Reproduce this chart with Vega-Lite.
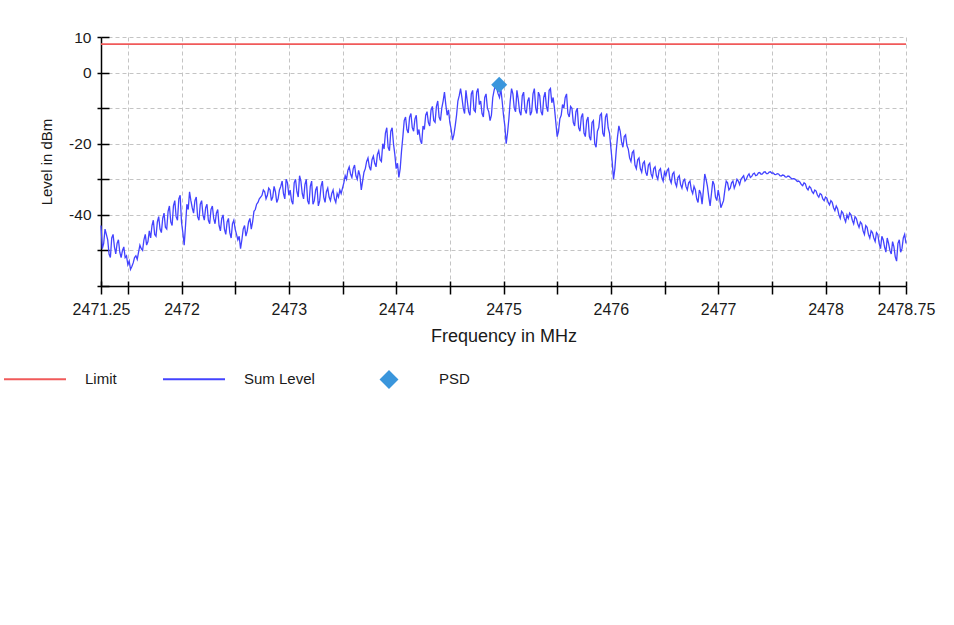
{
  "$schema": "https://vega.github.io/schema/vega-lite/v6.json",
  "width": 805,
  "height": 249,
  "autosize": {"type": "none"},
  "padding": {"left": 101, "top": 37, "right": 48, "bottom": 339},
  "background": "white",
  "config": {
    "view": {"stroke": null},
    "font": "Liberation Sans"
  },
  "datasets": {
    "limit": [{"f": 2471.25, "v": 8}, {"f": 2478.75, "v": 8}],
    "psd": [{"f": 2474.96, "v": -3.4}],
    "trace": [
      {"f":2471.25,"v":-43},{"f":2471.275,"v":-48},{"f":2471.3,"v":-45.5},{"f":2471.325,"v":-51},{"f":2471.35,"v":-46.5},{"f":2471.375,"v":-49},{"f":2471.4,"v":-48},{"f":2471.425,"v":-50.5},{"f":2471.45,"v":-50},{"f":2471.475,"v":-52},
      {"f":2471.5,"v":-54},{"f":2471.525,"v":-55.3},{"f":2471.55,"v":-53.5},{"f":2471.575,"v":-51.5},{"f":2471.6,"v":-50.5},{"f":2471.625,"v":-49.5},{"f":2471.65,"v":-47},{"f":2471.675,"v":-48.5},{"f":2471.7,"v":-44.5},{"f":2471.725,"v":-43},
      {"f":2471.75,"v":-45.5},{"f":2471.775,"v":-42},{"f":2471.8,"v":-44},{"f":2471.825,"v":-41},{"f":2471.85,"v":-43.5},{"f":2471.875,"v":-39},{"f":2471.9,"v":-42},{"f":2471.925,"v":-37.5},{"f":2471.95,"v":-40.5},{"f":2471.975,"v":-35.5},
      {"f":2472,"v":-42},{"f":2472.025,"v":-48.5},{"f":2472.05,"v":-37},{"f":2472.075,"v":-33.5},{"f":2472.1,"v":-38},{"f":2472.125,"v":-36},{"f":2472.15,"v":-40.5},{"f":2472.175,"v":-37},{"f":2472.2,"v":-40},{"f":2472.225,"v":-38},
      {"f":2472.25,"v":-41.5},{"f":2472.275,"v":-38.5},{"f":2472.3,"v":-41},{"f":2472.325,"v":-39.5},{"f":2472.35,"v":-43},{"f":2472.375,"v":-41},{"f":2472.4,"v":-44},{"f":2472.425,"v":-42},{"f":2472.45,"v":-45},{"f":2472.475,"v":-42.5},
      {"f":2472.5,"v":-44},{"f":2472.525,"v":-47},{"f":2472.55,"v":-49.5},{"f":2472.575,"v":-44},{"f":2472.6,"v":-46},{"f":2472.625,"v":-42},{"f":2472.65,"v":-44},{"f":2472.675,"v":-39},{"f":2472.7,"v":-37},{"f":2472.725,"v":-35.5},
      {"f":2472.75,"v":-34.5},{"f":2472.775,"v":-33.5},{"f":2472.8,"v":-34.5},{"f":2472.825,"v":-33},{"f":2472.85,"v":-35},{"f":2472.875,"v":-33.5},{"f":2472.9,"v":-35.5},{"f":2472.925,"v":-32},{"f":2472.95,"v":-34},{"f":2472.975,"v":-30},
      {"f":2473,"v":-34.5},{"f":2473.025,"v":-36},{"f":2473.05,"v":-31},{"f":2473.075,"v":-33.5},{"f":2473.1,"v":-29},{"f":2473.125,"v":-34},{"f":2473.15,"v":-31.5},{"f":2473.175,"v":-36},{"f":2473.2,"v":-32},{"f":2473.225,"v":-37},
      {"f":2473.25,"v":-33},{"f":2473.275,"v":-37.5},{"f":2473.3,"v":-32},{"f":2473.325,"v":-35},{"f":2473.35,"v":-33.5},{"f":2473.375,"v":-35},{"f":2473.4,"v":-34},{"f":2473.425,"v":-35.5},{"f":2473.45,"v":-34},{"f":2473.475,"v":-33},
      {"f":2473.5,"v":-32.5},{"f":2473.525,"v":-29},{"f":2473.55,"v":-27.5},{"f":2473.575,"v":-28.5},{"f":2473.6,"v":-27},{"f":2473.625,"v":-29},{"f":2473.65,"v":-27.5},{"f":2473.675,"v":-33},{"f":2473.7,"v":-28},{"f":2473.725,"v":-25},
      {"f":2473.75,"v":-26.5},{"f":2473.775,"v":-24.5},{"f":2473.8,"v":-25.5},{"f":2473.825,"v":-23},{"f":2473.85,"v":-24.5},{"f":2473.875,"v":-20},{"f":2473.9,"v":-17},{"f":2473.925,"v":-21},{"f":2473.95,"v":-16.5},{"f":2473.975,"v":-20},
      {"f":2474,"v":-27},{"f":2474.025,"v":-29.5},{"f":2474.05,"v":-22},{"f":2474.075,"v":-13.5},{"f":2474.1,"v":-16},{"f":2474.125,"v":-12.5},{"f":2474.15,"v":-15.5},{"f":2474.175,"v":-13},{"f":2474.2,"v":-17.5},{"f":2474.225,"v":-19},
      {"f":2474.25,"v":-15},{"f":2474.275,"v":-12},{"f":2474.3,"v":-14},{"f":2474.325,"v":-10.5},{"f":2474.35,"v":-13.5},{"f":2474.375,"v":-9.5},{"f":2474.4,"v":-12.5},{"f":2474.425,"v":-10},{"f":2474.45,"v":-5.5},{"f":2474.475,"v":-12},
      {"f":2474.5,"v":-14},{"f":2474.525,"v":-19},{"f":2474.55,"v":-15},{"f":2474.575,"v":-8},{"f":2474.6,"v":-4.5},{"f":2474.625,"v":-10},{"f":2474.65,"v":-5},{"f":2474.675,"v":-11},{"f":2474.7,"v":-6},{"f":2474.725,"v":-10.5},
      {"f":2474.75,"v":-5.5},{"f":2474.775,"v":-9},{"f":2474.8,"v":-11.5},{"f":2474.825,"v":-7},{"f":2474.85,"v":-10},{"f":2474.875,"v":-13.5},{"f":2474.9,"v":-7},{"f":2474.925,"v":-3.5},{"f":2474.95,"v":-6},{"f":2474.975,"v":-4.5},
      {"f":2475,"v":-12},{"f":2475.025,"v":-20},{"f":2475.05,"v":-13},{"f":2475.075,"v":-4.5},{"f":2475.1,"v":-10},{"f":2475.125,"v":-5},{"f":2475.15,"v":-11},{"f":2475.175,"v":-6.5},{"f":2475.2,"v":-10.5},{"f":2475.225,"v":-8},
      {"f":2475.25,"v":-12},{"f":2475.275,"v":-6},{"f":2475.3,"v":-10},{"f":2475.325,"v":-5.5},{"f":2475.35,"v":-11},{"f":2475.375,"v":-7},{"f":2475.4,"v":-9.5},{"f":2475.425,"v":-5},{"f":2475.45,"v":-8.5},{"f":2475.475,"v":-10},
      {"f":2475.5,"v":-18},{"f":2475.525,"v":-13},{"f":2475.55,"v":-9},{"f":2475.575,"v":-7},{"f":2475.6,"v":-11.5},{"f":2475.625,"v":-9.5},{"f":2475.65,"v":-14},{"f":2475.675,"v":-11},{"f":2475.7,"v":-15.5},{"f":2475.725,"v":-12.5},
      {"f":2475.75,"v":-17},{"f":2475.775,"v":-13.5},{"f":2475.8,"v":-18},{"f":2475.825,"v":-14},{"f":2475.85,"v":-20},{"f":2475.875,"v":-16.5},{"f":2475.9,"v":-12},{"f":2475.925,"v":-17},{"f":2475.95,"v":-12.5},{"f":2475.975,"v":-15.5},
      {"f":2476,"v":-21},{"f":2476.025,"v":-30},{"f":2476.05,"v":-22},{"f":2476.075,"v":-15},{"f":2476.1,"v":-19.5},{"f":2476.125,"v":-18},{"f":2476.15,"v":-20.5},{"f":2476.175,"v":-24},{"f":2476.2,"v":-22.5},{"f":2476.225,"v":-26},
      {"f":2476.25,"v":-24.5},{"f":2476.275,"v":-27},{"f":2476.3,"v":-25.5},{"f":2476.325,"v":-28},{"f":2476.35,"v":-26},{"f":2476.375,"v":-28.5},{"f":2476.4,"v":-27},{"f":2476.425,"v":-29},{"f":2476.45,"v":-27.5},{"f":2476.475,"v":-29.5},
      {"f":2476.5,"v":-28},{"f":2476.525,"v":-27.5},{"f":2476.55,"v":-30},{"f":2476.575,"v":-28.5},{"f":2476.6,"v":-31},{"f":2476.625,"v":-29.5},{"f":2476.65,"v":-31.5},{"f":2476.675,"v":-30.5},{"f":2476.7,"v":-32},{"f":2476.725,"v":-31},
      {"f":2476.75,"v":-33},{"f":2476.775,"v":-32},{"f":2476.8,"v":-35.5},{"f":2476.825,"v":-33},{"f":2476.85,"v":-37},{"f":2476.875,"v":-28.5},{"f":2476.9,"v":-32},{"f":2476.925,"v":-37.5},{"f":2476.95,"v":-30.5},{"f":2476.975,"v":-35},
      {"f":2477,"v":-33},{"f":2477.025,"v":-38},{"f":2477.05,"v":-36},{"f":2477.075,"v":-30.5},{"f":2477.1,"v":-33},{"f":2477.125,"v":-31},{"f":2477.15,"v":-32.5},{"f":2477.175,"v":-30},{"f":2477.2,"v":-31.5},{"f":2477.225,"v":-29.5},
      {"f":2477.25,"v":-30.5},{"f":2477.275,"v":-29},{"f":2477.3,"v":-29.5},{"f":2477.325,"v":-28.5},{"f":2477.35,"v":-29},{"f":2477.375,"v":-28.2},{"f":2477.4,"v":-28.6},{"f":2477.425,"v":-28},{"f":2477.45,"v":-28.4},{"f":2477.475,"v":-28},
      {"f":2477.5,"v":-28.3},{"f":2477.525,"v":-28.6},{"f":2477.55,"v":-28.4},{"f":2477.575,"v":-29},{"f":2477.6,"v":-28.8},{"f":2477.625,"v":-29.3},{"f":2477.65,"v":-29.1},{"f":2477.675,"v":-29.6},{"f":2477.7,"v":-29.8},{"f":2477.725,"v":-30.2},
      {"f":2477.75,"v":-30.5},{"f":2477.775,"v":-31.5},{"f":2477.8,"v":-31},{"f":2477.825,"v":-32.5},{"f":2477.85,"v":-32},{"f":2477.875,"v":-33.5},{"f":2477.9,"v":-33},{"f":2477.925,"v":-34.5},{"f":2477.95,"v":-34},{"f":2477.975,"v":-35.5},
      {"f":2478,"v":-35},{"f":2478.025,"v":-36.5},{"f":2478.05,"v":-36},{"f":2478.075,"v":-38},{"f":2478.1,"v":-37.5},{"f":2478.125,"v":-40},{"f":2478.15,"v":-39},{"f":2478.175,"v":-41},{"f":2478.2,"v":-40},{"f":2478.225,"v":-39.5},
      {"f":2478.25,"v":-41.5},{"f":2478.275,"v":-40.5},{"f":2478.3,"v":-42.5},{"f":2478.325,"v":-42},{"f":2478.35,"v":-44.5},{"f":2478.375,"v":-43},{"f":2478.4,"v":-45.5},{"f":2478.425,"v":-44.5},{"f":2478.45,"v":-46.5},{"f":2478.475,"v":-45},
      {"f":2478.5,"v":-48},{"f":2478.525,"v":-46},{"f":2478.55,"v":-49},{"f":2478.575,"v":-46.5},{"f":2478.6,"v":-50},{"f":2478.625,"v":-47.5},{"f":2478.65,"v":-51.8},{"f":2478.675,"v":-48},{"f":2478.7,"v":-50.5},{"f":2478.725,"v":-46.5},
      {"f":2478.75,"v":-48},
      {"f":2471.2625,"v":-49.5},{"f":2471.2875,"v":-44},{"f":2471.3125,"v":-47},{"f":2471.3375,"v":-52},{"f":2471.3625,"v":-45.5},{"f":2471.3875,"v":-51},{"f":2471.4125,"v":-47},{"f":2471.4375,"v":-52},{"f":2471.4625,"v":-49},{"f":2471.4875,"v":-51.5},
      {"f":2471.5125,"v":-53},{"f":2471.5375,"v":-54.5},{"f":2471.5625,"v":-52},{"f":2471.5875,"v":-52.5},{"f":2471.6125,"v":-48.5},{"f":2471.6375,"v":-50},{"f":2471.6625,"v":-45.5},{"f":2471.6875,"v":-47.5},{"f":2471.7125,"v":-46.5},{"f":2471.7375,"v":-41.5},
      {"f":2471.7625,"v":-46},{"f":2471.7875,"v":-40.5},{"f":2471.8125,"v":-45},{"f":2471.8375,"v":-39.5},{"f":2471.8625,"v":-44},{"f":2471.8875,"v":-37.5},{"f":2471.9125,"v":-43},{"f":2471.9375,"v":-36},{"f":2471.9625,"v":-41.5},{"f":2471.9875,"v":-34.5},
      {"f":2472.0125,"v":-45},{"f":2472.0375,"v":-43},{"f":2472.0625,"v":-38.5},{"f":2472.0875,"v":-36},{"f":2472.1125,"v":-39.5},{"f":2472.1375,"v":-35},{"f":2472.1625,"v":-41.5},{"f":2472.1875,"v":-36},{"f":2472.2125,"v":-41.5},{"f":2472.2375,"v":-37},
      {"f":2472.2625,"v":-42.5},{"f":2472.2875,"v":-37.5},{"f":2472.3125,"v":-42.5},{"f":2472.3375,"v":-38.5},{"f":2472.3625,"v":-44.5},{"f":2472.3875,"v":-40},{"f":2472.4125,"v":-45.5},{"f":2472.4375,"v":-41},{"f":2472.4625,"v":-46.5},{"f":2472.4875,"v":-41.5},
      {"f":2472.5125,"v":-45.5},{"f":2472.5375,"v":-46},{"f":2472.5625,"v":-47},{"f":2472.5875,"v":-43},{"f":2472.6125,"v":-44.5},{"f":2472.6375,"v":-41},{"f":2472.6625,"v":-42},{"f":2472.6875,"v":-38.5},{"f":2472.7125,"v":-36.5},{"f":2472.7375,"v":-35},
      {"f":2472.7625,"v":-33},{"f":2472.7875,"v":-35.5},{"f":2472.8125,"v":-32.5},{"f":2472.8375,"v":-36},{"f":2472.8625,"v":-32},{"f":2472.8875,"v":-36.5},{"f":2472.9125,"v":-33},{"f":2472.9375,"v":-30.5},{"f":2472.9625,"v":-35.5},{"f":2472.9875,"v":-31},
      {"f":2473.0125,"v":-33},{"f":2473.0375,"v":-37},{"f":2473.0625,"v":-30},{"f":2473.0875,"v":-35},{"f":2473.1125,"v":-30.5},{"f":2473.1375,"v":-35.5},{"f":2473.1625,"v":-30},{"f":2473.1875,"v":-37},{"f":2473.2125,"v":-30.5},{"f":2473.2375,"v":-36},
      {"f":2473.2625,"v":-32},{"f":2473.2875,"v":-36},{"f":2473.3125,"v":-30.5},{"f":2473.3375,"v":-36.5},{"f":2473.3625,"v":-32.5},{"f":2473.3875,"v":-36},{"f":2473.4125,"v":-33},{"f":2473.4375,"v":-36.5},{"f":2473.4625,"v":-35},{"f":2473.4875,"v":-34},
      {"f":2473.5125,"v":-31},{"f":2473.5375,"v":-30},{"f":2473.5625,"v":-26.5},{"f":2473.5875,"v":-29.5},{"f":2473.6125,"v":-26},{"f":2473.6375,"v":-30},{"f":2473.6625,"v":-29},{"f":2473.6875,"v":-30.5},{"f":2473.7125,"v":-27},{"f":2473.7375,"v":-24},
      {"f":2473.7625,"v":-27.5},{"f":2473.7875,"v":-23.5},{"f":2473.8125,"v":-26.5},{"f":2473.8375,"v":-22},{"f":2473.8625,"v":-25},{"f":2473.8875,"v":-21.5},{"f":2473.9125,"v":-15.5},{"f":2473.9375,"v":-22},{"f":2473.9625,"v":-15.5},{"f":2473.9875,"v":-23},
      {"f":2474.0125,"v":-25.5},{"f":2474.0375,"v":-27},{"f":2474.0625,"v":-18},{"f":2474.0875,"v":-12.5},{"f":2474.1125,"v":-17},{"f":2474.1375,"v":-11.5},{"f":2474.1625,"v":-16.5},{"f":2474.1875,"v":-12},{"f":2474.2125,"v":-16},{"f":2474.2375,"v":-20},
      {"f":2474.2625,"v":-16},{"f":2474.2875,"v":-11},{"f":2474.3125,"v":-15},{"f":2474.3375,"v":-9.5},{"f":2474.3625,"v":-14},{"f":2474.3875,"v":-8},{"f":2474.4125,"v":-13.5},{"f":2474.4375,"v":-8},{"f":2474.4625,"v":-9},{"f":2474.4875,"v":-10.5},
      {"f":2474.5125,"v":-16},{"f":2474.5375,"v":-17.5},{"f":2474.5625,"v":-12},{"f":2474.5875,"v":-6.5},{"f":2474.6125,"v":-7},{"f":2474.6375,"v":-11.5},{"f":2474.6625,"v":-8},{"f":2474.6875,"v":-12},{"f":2474.7125,"v":-5},{"f":2474.7375,"v":-11},
      {"f":2474.7625,"v":-4.5},{"f":2474.7875,"v":-8},{"f":2474.8125,"v":-12.5},{"f":2474.8375,"v":-6},{"f":2474.8625,"v":-11},{"f":2474.8875,"v":-12},{"f":2474.9125,"v":-5},{"f":2474.9375,"v":-4.5},{"f":2474.9625,"v":-7},{"f":2474.9875,"v":-8},
      {"f":2475.0125,"v":-15},{"f":2475.0375,"v":-17},{"f":2475.0625,"v":-8},{"f":2475.0875,"v":-6},{"f":2475.1125,"v":-11},{"f":2475.1375,"v":-7.5},{"f":2475.1625,"v":-12},{"f":2475.1875,"v":-5.5},{"f":2475.2125,"v":-11.5},{"f":2475.2375,"v":-7},
      {"f":2475.2625,"v":-11},{"f":2475.2875,"v":-4.5},{"f":2475.3125,"v":-11.5},{"f":2475.3375,"v":-6.5},{"f":2475.3625,"v":-12},{"f":2475.3875,"v":-5.5},{"f":2475.4125,"v":-11},{"f":2475.4375,"v":-4.5},{"f":2475.4625,"v":-7},{"f":2475.4875,"v":-14},
      {"f":2475.5125,"v":-16.5},{"f":2475.5375,"v":-12},{"f":2475.5625,"v":-10},{"f":2475.5875,"v":-6},{"f":2475.6125,"v":-12.5},{"f":2475.6375,"v":-10},{"f":2475.6625,"v":-15},{"f":2475.6875,"v":-10},{"f":2475.7125,"v":-16.5},{"f":2475.7375,"v":-11.5},
      {"f":2475.7625,"v":-18},{"f":2475.7875,"v":-12.5},{"f":2475.8125,"v":-19},{"f":2475.8375,"v":-13.5},{"f":2475.8625,"v":-21},{"f":2475.8875,"v":-15.5},{"f":2475.9125,"v":-11.5},{"f":2475.9375,"v":-18},{"f":2475.9625,"v":-11.5},{"f":2475.9875,"v":-17},
      {"f":2476.0125,"v":-25},{"f":2476.0375,"v":-27},{"f":2476.0625,"v":-18},{"f":2476.0875,"v":-16.5},{"f":2476.1125,"v":-21},{"f":2476.1375,"v":-17.5},{"f":2476.1625,"v":-21.5},{"f":2476.1875,"v":-25},{"f":2476.2125,"v":-22},{"f":2476.2375,"v":-27},
      {"f":2476.2625,"v":-24},{"f":2476.2875,"v":-28},{"f":2476.3125,"v":-25},{"f":2476.3375,"v":-29},{"f":2476.3625,"v":-25.5},{"f":2476.3875,"v":-29.5},{"f":2476.4125,"v":-26.5},{"f":2476.4375,"v":-30},{"f":2476.4625,"v":-27},{"f":2476.4875,"v":-30.5},
      {"f":2476.5125,"v":-29},{"f":2476.5375,"v":-27},{"f":2476.5625,"v":-31},{"f":2476.5875,"v":-28},{"f":2476.6125,"v":-32},{"f":2476.6375,"v":-29},{"f":2476.6625,"v":-32.5},{"f":2476.6875,"v":-30},{"f":2476.7125,"v":-33},{"f":2476.7375,"v":-30.5},
      {"f":2476.7625,"v":-34},{"f":2476.7875,"v":-33},{"f":2476.8125,"v":-36.5},{"f":2476.8375,"v":-34},{"f":2476.8625,"v":-33},{"f":2476.8875,"v":-30},{"f":2476.9125,"v":-35},{"f":2476.9375,"v":-34},{"f":2476.9625,"v":-31.5},{"f":2476.9875,"v":-36},
      {"f":2477.0125,"v":-35},{"f":2477.0375,"v":-37},{"f":2477.0625,"v":-33},{"f":2477.0875,"v":-31},{"f":2477.1125,"v":-32.5},{"f":2477.1375,"v":-30.5},{"f":2477.1625,"v":-31.5},{"f":2477.1875,"v":-30.5},{"f":2477.2125,"v":-30},{"f":2477.2375,"v":-29},
      {"f":2477.2625,"v":-30},{"f":2477.2875,"v":-28.5},{"f":2477.3125,"v":-29.2},{"f":2477.3375,"v":-28.3},{"f":2477.3625,"v":-28.8},{"f":2477.3875,"v":-28.1},{"f":2477.4125,"v":-28.5},{"f":2477.4375,"v":-27.9},{"f":2477.4625,"v":-28.4},{"f":2477.4875,"v":-27.9},
      {"f":2477.5125,"v":-28.2},{"f":2477.5375,"v":-28.7},{"f":2477.5625,"v":-28.5},{"f":2477.5875,"v":-29.1},{"f":2477.6125,"v":-28.9},{"f":2477.6375,"v":-29.4},{"f":2477.6625,"v":-29.2},{"f":2477.6875,"v":-29.9},{"f":2477.7125,"v":-29.9},{"f":2477.7375,"v":-30.6},
      {"f":2477.7625,"v":-30.8},{"f":2477.7875,"v":-31.8},{"f":2477.8125,"v":-31.3},{"f":2477.8375,"v":-33},{"f":2477.8625,"v":-32.4},{"f":2477.8875,"v":-34},{"f":2477.9125,"v":-33.3},{"f":2477.9375,"v":-35},{"f":2477.9625,"v":-34.3},{"f":2477.9875,"v":-36},
      {"f":2478.0125,"v":-35.3},{"f":2478.0375,"v":-37.2},{"f":2478.0625,"v":-36.5},{"f":2478.0875,"v":-38.8},{"f":2478.1125,"v":-38.3},{"f":2478.1375,"v":-41},{"f":2478.1625,"v":-39.5},{"f":2478.1875,"v":-42},{"f":2478.2125,"v":-41},{"f":2478.2375,"v":-40},
      {"f":2478.2625,"v":-42.5},{"f":2478.2875,"v":-41},{"f":2478.3125,"v":-43.5},{"f":2478.3375,"v":-42.5},{"f":2478.3625,"v":-45.5},{"f":2478.3875,"v":-43.5},{"f":2478.4125,"v":-46.5},{"f":2478.4375,"v":-45},{"f":2478.4625,"v":-47.5},{"f":2478.4875,"v":-45.5},
      {"f":2478.5125,"v":-49.5},{"f":2478.5375,"v":-47},{"f":2478.5625,"v":-50.5},{"f":2478.5875,"v":-48},{"f":2478.6125,"v":-51},{"f":2478.6375,"v":-49},{"f":2478.6625,"v":-53},{"f":2478.6875,"v":-47},{"f":2478.7125,"v":-49.5},{"f":2478.7375,"v":-45.5}
    ]
  },
  "layer": [
    {
      "data": {"name": "limit"},
      "mark": {"type": "line", "strokeWidth": 1.8},
      "encoding": {
        "x": {
          "field": "f", "type": "quantitative",
          "scale": {"domain": [2471.25, 2478.75], "nice": false, "zero": false},
          "axis": {
            "title": "Frequency in MHz",
            "values": [2471.25, 2471.5, 2472, 2472.5, 2473, 2473.5, 2474, 2474.5, 2475, 2475.5, 2476, 2476.5, 2477, 2477.5, 2478, 2478.5, 2478.75],
            "labelExpr": "(datum.value % 1 === 0 || datum.value === 2471.25 || datum.value === 2478.75) ? datum.value + '' : ''",
            "labelOverlap": false, "labelFlush": false, "labelBound": false,
            "grid": true, "gridDash": [4, 3], "gridColor": "#c4c4c4", "gridWidth": 1,
            "tickSize": 8, "tickColor": "#000000", "tickWidth": 1.5,
            "domainColor": "#000000", "domainWidth": 1.5,
            "labelPadding": 7, "labelFontSize": 16, "labelColor": "#1a1a1a", "labelFont": "Liberation Sans",
            "titleFontSize": 18, "titleFontWeight": "normal", "titleColor": "#1a1a1a", "titlePadding": 10, "titleFont": "Liberation Sans"
          }
        },
        "y": {
          "field": "v", "type": "quantitative",
          "scale": {"domain": [-60, 10], "nice": false, "zero": false},
          "axis": {
            "title": "Level in dBm",
            "values": [10, 0, -10, -20, -30, -40, -50, -60],
            "labelExpr": "(datum.value == 10 || datum.value == 0 || datum.value == -20 || datum.value == -40) ? datum.value + '' : ''",
            "labelOverlap": false, "labelFlush": false, "labelBound": false,
            "grid": true, "gridDash": [4, 3], "gridColor": "#c4c4c4", "gridWidth": 1,
            "tickSize": 4, "tickColor": "#000000", "tickWidth": 1.5,
            "domainColor": "#000000", "domainWidth": 1.5,
            "labelPadding": 6, "labelFontSize": 15.5, "labelColor": "#1a1a1a", "labelFont": "Liberation Sans",
            "titleFontSize": 15, "titleFontWeight": "normal", "titleColor": "#1a1a1a", "titlePadding": 14, "titleFont": "Liberation Sans"
          }
        },
        "color": {
          "datum": "Limit", "type": "nominal",
          "scale": {"domain": ["Limit", "Sum Level", "PSD"], "range": ["#f05a5a", "#4343ff", "#3a96dc"]},
          "legend": {
            "orient": "none", "legendX": -98, "legendY": 310,
            "direction": "horizontal", "title": null,
            "symbolSize": 3844, "labelOffset": 18, "columnPadding": 42,
            "labelFontSize": 15, "labelColor": "#1a1a1a", "labelFont": "Liberation Sans",
            "padding": 0, "symbolStrokeWidth": 2,
            "encode": {
              "symbols": {
                "update": {
                  "shape": {"signal": "datum.value === 'PSD' ? 'M0,-0.26L0.26,0L0,0.26L-0.26,0Z' : 'M-1,0L1,0M0,-0.27L0,-0.27M0,0.27L0,0.27'"},
                  "fill": {"signal": "datum.value === 'PSD' ? '#3a96dc' : 'transparent'"},
                  "stroke": {"signal": "datum.value === 'Limit' ? '#f26a6a' : (datum.value === 'Sum Level' ? '#5a5aff' : '#3a96dc')"},
                  "strokeWidth": {"value": 2},
                  "opacity": {"value": 1}
                }
              }
            }
          }
        }
      }
    },
    {
      "data": {"name": "trace"},
      "mark": {"type": "line", "strokeWidth": 1.3},
      "encoding": {
        "x": {
          "field": "f", "type": "quantitative",
          "axis": {
            "title": null, "labels": false, "domain": false, "grid": false,
            "values": [2471.25, 2471.5, 2472, 2472.5, 2473, 2473.5, 2474, 2474.5, 2475, 2475.5, 2476, 2476.5, 2477, 2477.5, 2478, 2478.5, 2478.75],
            "offset": -5, "tickSize": 5, "tickColor": "#000000", "tickWidth": 1.5, "orient": "bottom"
          }
        },
        "y": {
          "field": "v", "type": "quantitative",
          "axis": {
            "title": null, "labels": false, "domain": false, "grid": false,
            "values": [10, 0, -10, -20, -30, -40, -50, -60],
            "offset": -8, "tickSize": 8, "tickColor": "#000000", "tickWidth": 1.5, "orient": "left"
          }
        },
        "color": {"datum": "Sum Level", "type": "nominal"}
      }
    },
    {
      "data": {"name": "psd"},
      "mark": {"type": "point", "shape": "diamond", "filled": true, "size": 256, "opacity": 1},
      "encoding": {
        "x": {"field": "f", "type": "quantitative", "axis": null},
        "y": {"field": "v", "type": "quantitative", "axis": null},
        "color": {"datum": "PSD", "type": "nominal"}
      }
    }
  ],
  "resolve": {"axis": {"x": "independent", "y": "independent"}}
}
